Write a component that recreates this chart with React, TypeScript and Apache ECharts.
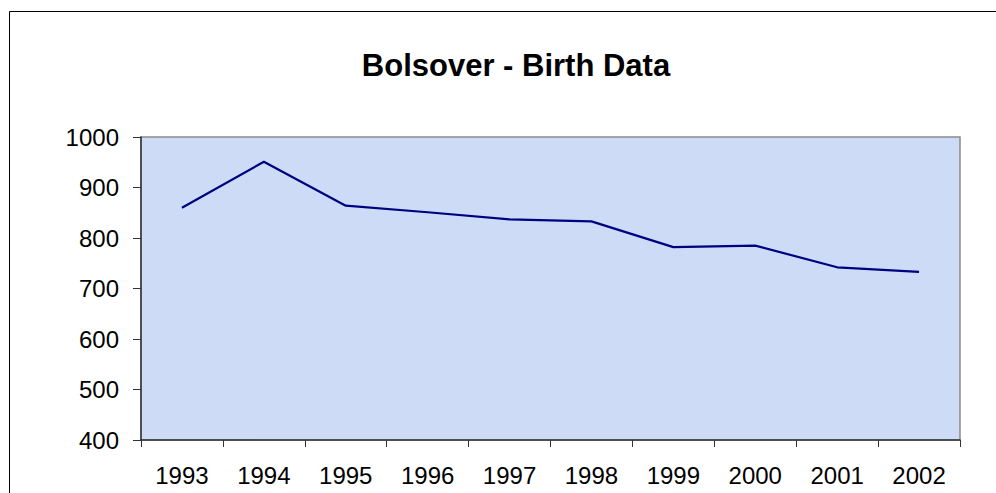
import React, { useEffect, useRef } from "react";
import * as echarts from "echarts";

const titleText = "Bolsover - Birth Data";
const years = ["1993", "1994", "1995", "1996", "1997", "1998", "1999", "2000", "2001", "2002"];
const births = [860, 951, 864, 851, 837, 833, 782, 785, 742, 733];
const yMin = 400;
const yMax = 1000;
const yStep = 100;

export default function App() {
  const ref = useRef<HTMLDivElement>(null);
  useEffect(() => {
    document.body.style.margin = "0";
    if (!ref.current) return;
    const chart = echarts.init(ref.current, null, { renderer: "svg" });
    const font = "'Liberation Sans', Arial, sans-serif";
    chart.setOption({
      animation: false,
      backgroundColor: "#ffffff",
      title: {
        text: titleText,
        left: 511,
        textAlign: "center",
        top: 45,
        textStyle: { fontFamily: font, fontSize: 31, fontWeight: "bold", color: "#000" },
      },
      graphic: [
        {
          type: "rect",
          shape: { x: 9.5, y: 11.5, width: 1000, height: 500 },
          style: { fill: "none", stroke: "#000", lineWidth: 1 },
          silent: true,
        },
      ],
      grid: {
        left: 141,
        top: 137,
        right: 36,
        bottom: 53,
        show: true,
        backgroundColor: "#cddbf6",
        borderColor: "#8a8a8a",
        borderWidth: 1.5,
      },
      xAxis: {
        type: "category",
        data: years,
        boundaryGap: true,
        axisLine: { show: true, lineStyle: { color: "#333", width: 1.5 } },
        axisTick: { show: true, length: 7, interval: 0, lineStyle: { color: "#333", width: 1 } },
        axisLabel: { fontFamily: font, fontSize: 24, color: "#000", margin: 23, interval: 0 },
        splitLine: { show: false },
      },
      yAxis: {
        type: "value",
        min: yMin,
        max: yMax,
        interval: yStep,
        axisLine: { show: true, lineStyle: { color: "#333", width: 1.5 } },
        axisTick: { show: true, length: 8, lineStyle: { color: "#333", width: 1 } },
        axisLabel: {
          fontFamily: font,
          fontSize: 24,
          color: "#000",
          margin: 22,
          formatter: (v: number) => String(v),
        },
        splitLine: { show: false },
      },
      series: [
        {
          type: "line",
          data: births,
          symbol: "none",
          lineStyle: { color: "#000080", width: 2.2 },
        },
      ],
    });
    return () => chart.dispose();
  }, []);
  return <div ref={ref} style={{ width: 996, height: 493 }} />;
}
